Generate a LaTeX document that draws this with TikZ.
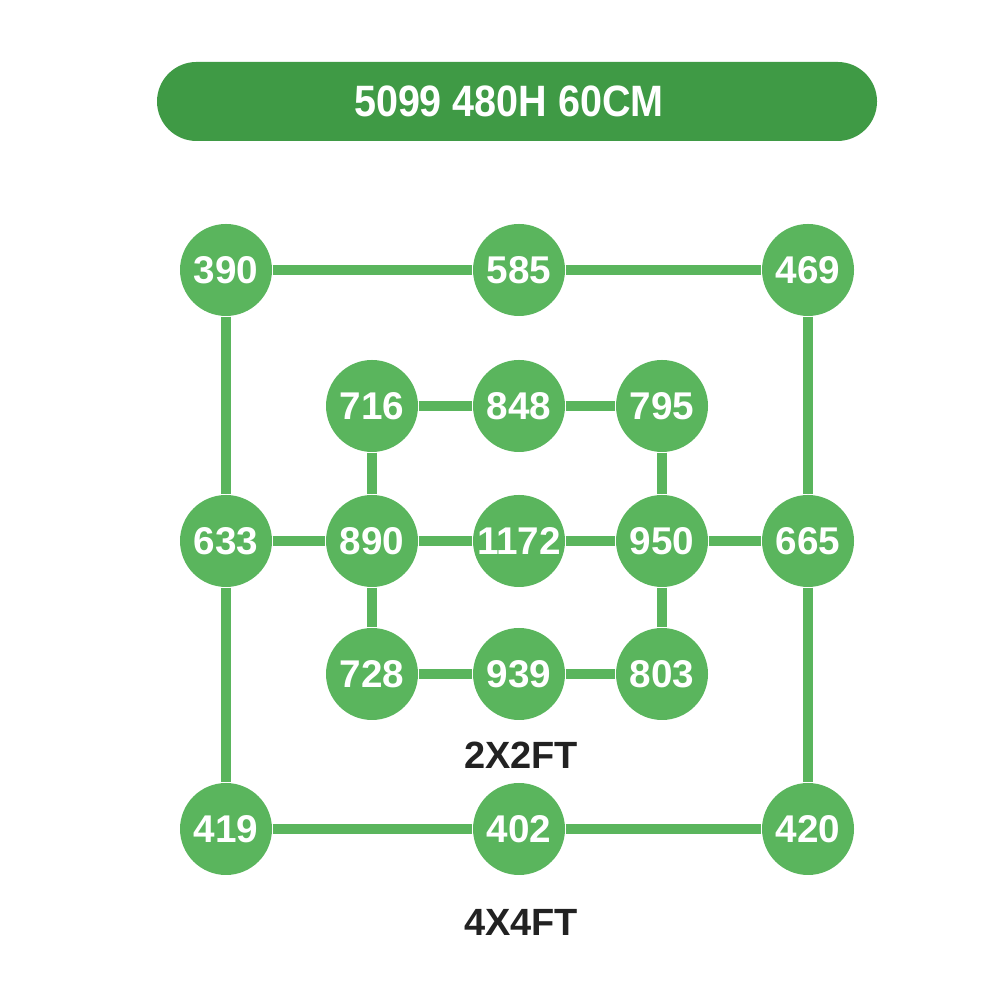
\documentclass[tikz,border=0pt]{standalone}
\usepackage{fontspec}
\setmainfont{Liberation Sans}
\newfontfamily\headfont{Liberation Sans}[FakeStretch=0.9]
\definecolor{headgreen}{HTML}{3F9A45}
\definecolor{dotgreen}{HTML}{5AB55D}
\definecolor{labelgray}{HTML}{222222}
\begin{document}
\begin{tikzpicture}[
  dot/.style={circle, fill=dotgreen, minimum size=0.92cm, inner sep=0pt, text=white, font=\fontsize{11}{13}\selectfont\bfseries},
  head/.style={rounded corners=0.395cm, fill=headgreen, minimum width=7.2cm, minimum height=0.79cm},
  headtext/.style={text=white, font=\headfont\fontsize{12.5}{14}\selectfont\bfseries},
  size/.style={text=labelgray, font=\fontsize{10.8}{13}\selectfont\bfseries},
  link/.style={dotgreen, line width=0.1cm}
]
\useasboundingbox (0,0) rectangle (10,10);
\node[head] (title) at (5.17,8.985) {};
\node[headtext] (titletext) at (5.09,8.985) {5099 480H 60CM};
% outer ring
\node[dot] (n390) at (2.26,7.30) {390};
\node[dot] (n585) at (5.19,7.30) {585};
\node[dot] (n469) at (8.08,7.30) {469};
\node[dot] (n633) at (2.26,4.59) {633};
\node[dot] (n665) at (8.08,4.59) {665};
\node[dot] (n419) at (2.26,1.71) {419};
\node[dot] (n402) at (5.19,1.71) {402};
\node[dot] (n420) at (8.08,1.71) {420};
% inner ring
\node[dot] (n716) at (3.72,5.94) {716};
\node[dot] (n848) at (5.19,5.94) {848};
\node[dot] (n795) at (6.62,5.94) {795};
\node[dot] (n890) at (3.72,4.59) {890};
\node[dot] (n1172) at (5.19,4.59) {1172};
\node[dot] (n950) at (6.62,4.59) {950};
\node[dot] (n728) at (3.72,3.26) {728};
\node[dot] (n939) at (5.19,3.26) {939};
\node[dot] (n803) at (6.62,3.26) {803};
\node[size] (small) at (5.21,2.45) {2X2FT};
\node[size] (large) at (5.21,0.78) {4X4FT};
\draw[link] (n390) -- (n585);
\draw[link] (n585) -- (n469);
\draw[link] (n390) -- (n633);
\draw[link] (n633) -- (n419);
\draw[link] (n469) -- (n665);
\draw[link] (n665) -- (n420);
\draw[link] (n419) -- (n402);
\draw[link] (n402) -- (n420);
\draw[link] (n633) -- (n890);
\draw[link] (n890) -- (n1172);
\draw[link] (n1172) -- (n950);
\draw[link] (n950) -- (n665);
\draw[link] (n716) -- (n848);
\draw[link] (n848) -- (n795);
\draw[link] (n716) -- (n890);
\draw[link] (n890) -- (n728);
\draw[link] (n795) -- (n950);
\draw[link] (n950) -- (n803);
\draw[link] (n728) -- (n939);
\draw[link] (n939) -- (n803);
\end{tikzpicture}
\end{document}
